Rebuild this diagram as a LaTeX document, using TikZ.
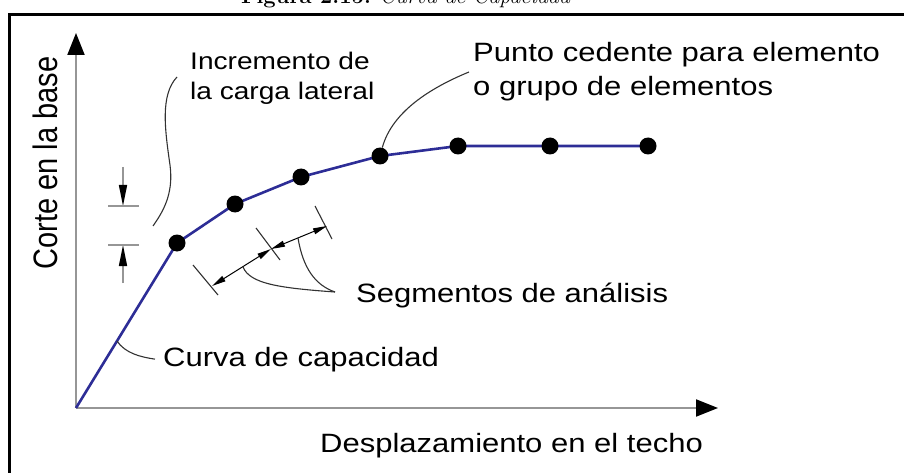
\documentclass[tikz,border=0pt]{standalone}
\usepackage{fontspec}
\setsansfont{Liberation Sans}[FakeStretch=1.17]
\newfontfamily\ejefont{Liberation Sans}
\usetikzlibrary{arrows.meta, positioning}
\definecolor{azul}{RGB}{45,45,150}
\definecolor{gris}{RGB}{150,150,150}
\definecolor{tinta}{RGB}{50,50,50}

\begin{document}
\begin{tikzpicture}[x=1pt, y=-1pt,
  punto/.style={circle, fill=black, inner sep=0pt, minimum size=17pt},
  texto/.style={font=\sffamily\fontsize{26.5}{30}\selectfont, inner sep=0pt, anchor=base west},
  eje/.style={draw=gris, line width=2pt, -{Triangle[length=22pt, width=17pt, color=black]}},
  marca/.style={draw=gris, line width=1.5pt, -{Triangle[length=21pt, width=8pt, color=black]}},
  guia/.style={draw=tinta, line width=1.1pt},
  cota/.style={draw=black, line width=1pt, {Triangle[length=14pt, width=6pt]}-{Triangle[length=14pt, width=6pt]}}]
\useasboundingbox (0,0) rectangle (904,473);
\node[font=\rmfamily\fontsize{22}{24}\selectfont, anchor=base, inner sep=0pt] (titulo) at (406,4) {\textbf{Figura 2.15:} \textit{Curva de Capacidad}};
\draw[line width=2.5pt] (9.5,600) -- (9.5,14.5) -- (1000,14.5);

\coordinate (c0) at (76,408);
\coordinate (ytop) at (76,33);
\coordinate (xfin) at (718,408);
\draw[eje] (c0) -- (ytop);
\draw[eje] (c0) -- (xfin);

\coordinate (c1) at (177,243);
\coordinate (c2) at (235,204);
\coordinate (c3) at (301,177);
\coordinate (c4) at (380,156);
\coordinate (c5) at (458,146);
\coordinate (c6) at (550,146);
\coordinate (c7) at (648,146);
\draw[draw=azul, line width=2.6pt] (c0) -- (c1) -- (c2) -- (c3) -- (c4) -- (c5) -- (c6) -- (c7);
\foreach \i in {1,...,7}
  \node[punto] (p\i) at (c\i) {};

\node[font=\ejefont\fontsize{29}{32}\selectfont, inner sep=0pt, rotate=90, yscale=1.17] (corte) at (45,163) {Corte en la base};
\node[texto] (desplaz) at (320,452) {Desplazamiento en el techo};
\node[texto] (curva) at (163,366) {Curva de capacidad};
\node[texto] (segmentos) at (356,302) {Segmentos de análisis};
\node[texto, font=\sffamily\fontsize{24}{28}\selectfont] (incr1) at (190,70) {Incremento de};
\node[texto, font=\sffamily\fontsize{24}{28}\selectfont] (incr2) at (190,100) {la carga lateral};
\node[texto] (punto1) at (473,62) {Punto cedente para elemento};
\node[texto] (punto2) at (473,96) {o grupo de elementos};

% leaders
\coordinate (k1) at (117,341);
\draw[guia] (k1) .. controls (125,353) and (140,357) .. ([xshift=-8pt]curva.west);
\coordinate (k2) at (177,77);
\coordinate (k3) at (153,226);
\draw[guia] (k2) .. controls (160,95) and (165,130) .. (170,165) .. controls (174,195) and (162,213) .. (k3);
\coordinate (k4) at (469,72);
\draw[guia] (k4) .. controls (430,88) and (392,112) .. (p4);

% incremento
\draw[marca] (123,167) -- (123,206);
\draw[marca] (123,283) -- (123,245);
\draw[draw=gris, line width=1.5pt] (108,206) -- (139,206) (108,245) -- (139,245);

% segmentos
\coordinate (t1a) at (193,265); \coordinate (t1b) at (218,295);
\coordinate (t2a) at (256,228); \coordinate (t2b) at (280,260);
\coordinate (t3a) at (315,206); \coordinate (t3b) at (332,239);
\draw[guia] (t1a) -- (t1b) (t2a) -- (t2b) (t3a) -- (t3b);
\coordinate (sa) at (212,286);
\coordinate (sc) at (271,249);
\coordinate (sb) at (327,226);
\draw[cota] (sa) -- (sc);
\draw[cota] (sc) -- (sb);
\coordinate (m1) at (243,267);
\coordinate (m2) at (298,238);
\coordinate (s0) at (335,292);
\draw[guia] (m1) .. controls (250,284) and (280,288) .. (s0);
\draw[guia] (m2) .. controls (303,268) and (315,285) .. (s0);
\end{tikzpicture}
\end{document}
